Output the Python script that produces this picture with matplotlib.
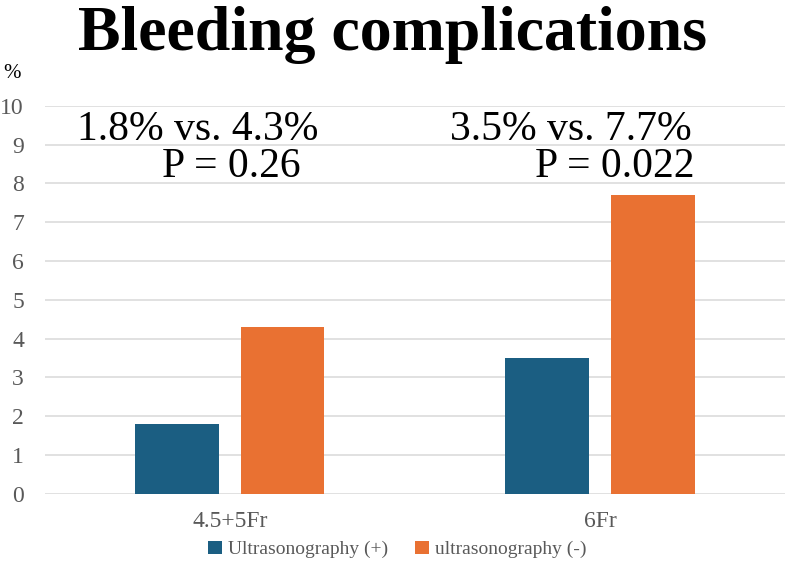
import numpy as np
import matplotlib.pyplot as plt

# data
categories = ["4.5+5Fr", "6Fr"]
us_plus = [1.8, 3.5]
us_minus = [4.3, 7.7]
series_names = ["Ultrasonography (+)", "ultrasonography (-)"]
rate_labels = ["1.8% vs. 4.3%", "3.5% vs. 7.7%"]
p_labels = ["P = 0.26", "P = 0.022"]

plt.rcParams['font.family'] = ['Liberation Serif', 'DejaVu Serif']

blue = "#1b5e82"
orange = "#e97132"
grey = "#595959"

fig = plt.figure(figsize=(7.85, 5.69), dpi=100)
ax = fig.add_axes([0.057, 0.132, 0.943, 0.682])

x = np.arange(len(categories))
w = 0.225
ax.bar(x - 0.143, us_plus, w, color=blue, label=series_names[0], zorder=3)
ax.bar(x + 0.143, us_minus, w, color=orange, label=series_names[1], zorder=3)

ax.set_xlim(-0.5, 1.5)
ax.set_ylim(0, 10)
ax.set_yticks(range(0, 11))
ax.yaxis.grid(True, color="#dcdcdc", linewidth=1.2, zorder=0)
for s in ax.spines.values():
    s.set_visible(False)
ax.tick_params(axis='y', length=0, pad=15, labelsize=17, labelcolor=grey)
ax.set_xticks(x)
ax.set_xticklabels(categories)
ax.tick_params(axis='x', length=0, pad=12, labelsize=17, labelcolor=grey)

# annotations above each group
ax.text(-0.086, 9.38, rate_labels[0], ha='center', va='center', fontsize=30)
ax.text(0.005, 8.43, p_labels[0], ha='center', va='center', fontsize=30)
ax.text(0.92, 9.38, rate_labels[1], ha='center', va='center', fontsize=30)
ax.text(1.04, 8.43, p_labels[1], ha='center', va='center', fontsize=30)

fig.text(0.5, 0.99, "Bleeding complications", ha='center', va='top',
         fontsize=46, fontweight='bold')
fig.text(0.004, 0.87, "%", ha='left', va='center', fontsize=15)

fig.legend(loc='lower center', bbox_to_anchor=(0.506, -0.012), ncol=2, frameon=False,
           fontsize=14, handlelength=0.7, handleheight=0.7, handletextpad=0.3,
           columnspacing=1.4, labelcolor=grey)

plt.savefig("out.png", dpi=100)
